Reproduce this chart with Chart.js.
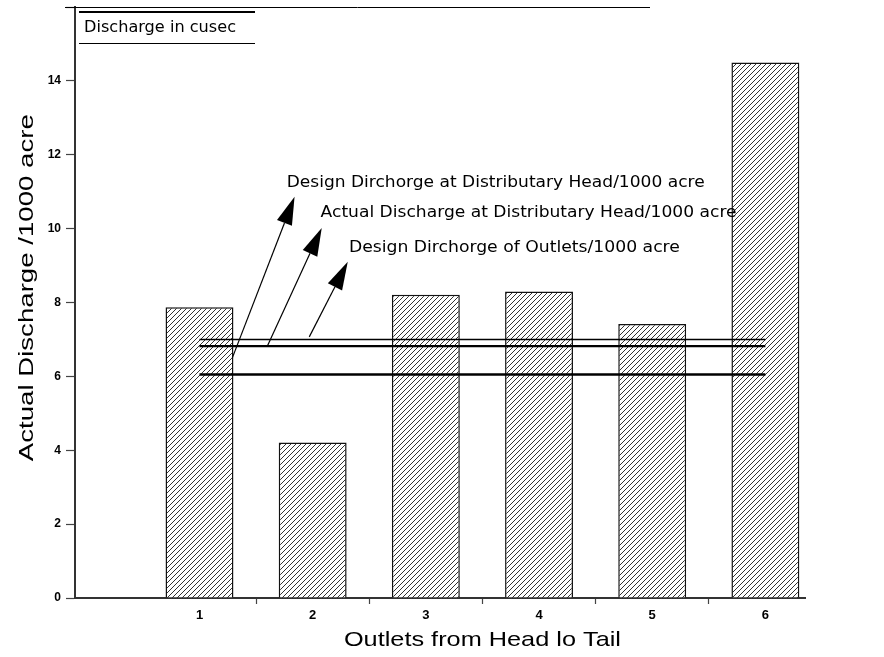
<!DOCTYPE html>
<html>
<head>
<meta charset="utf-8">
<script src="https://cdn.jsdelivr.net/npm/chart.js@4"></script>
<style>
  html, body { margin: 0; padding: 0; background: #fff; }
  canvas { display: block; }
</style>
</head>
<body>
<canvas id="c" width="884" height="657"></canvas>
<script>
// ---- data ----
const outlets = [1, 2, 3, 4, 5, 6];
const actualDischarge = [7.87, 4.21, 8.21, 8.30, 7.42, 14.5];
const refLineNames = [
  'Design Dirchorge at Distributary Head/1000 acre',
  'Actual Discharge at Distributary Head/1000 acre',
  'Design Dirchorge of Outlets/1000 acre'
];
const refLineValues = [6.05, 6.82, 7.0];
const yTickValues = [0, 2, 4, 6, 8, 10, 12, 14, 16];
const boxTitle = 'Discharge in cusec';
const xTitle = 'Outlets from Head lo Tail';
const yTitle = 'Actual Discharge /1000 acre';

// annotation arrows (data coordinates): tail -> tip, label start
const arrowTails = [[1.29, 6.5], [1.60, 6.82], [1.97, 7.07]];
const arrowTips = [[1.84, 10.86], [2.08, 10.02], [2.31, 9.10]];
const labelAnchors = [[1.77, 11.24], [2.07, 10.42], [2.32, 9.48]];
const labelWidths = [418, 416, 331];

// ---- hatch pattern ----
function hatch() {
  const s = 5;
  const p = document.createElement('canvas');
  p.width = s; p.height = s;
  const g = p.getContext('2d');
  g.fillStyle = '#fff';
  g.fillRect(0, 0, s, s);
  g.strokeStyle = '#333';
  g.lineWidth = 1;
  g.beginPath();
  g.moveTo(-1, s + 1); g.lineTo(s + 1, -1);
  g.moveTo(-1, 1); g.lineTo(1, -1);
  g.moveTo(s - 1, s + 1); g.lineTo(s + 1, s - 1);
  g.stroke();
  return document.getElementById('c').getContext('2d').createPattern(p, 'repeat');
}

function fitText(ctx, text, x, y, width, font, align) {
  ctx.save();
  ctx.font = font;
  const w = ctx.measureText(text).width;
  const k = width / w;
  ctx.translate(x, y);
  ctx.scale(k, 1);
  ctx.textAlign = align || 'left';
  ctx.textBaseline = 'middle';
  ctx.fillText(text, 0, 0);
  ctx.restore();
}

const decor = {
  id: 'decor',
  afterDatasetsDraw(chart) {
    const ctx = chart.ctx;
    const xs = chart.scales.x, ys = chart.scales.y;
    const ca = chart.chartArea;
    ctx.save();
    ctx.fillStyle = '#000';
    ctx.strokeStyle = '#000';

    // top frame line
    ctx.lineWidth = 1;
    ctx.beginPath();
    ctx.moveTo(ca.left - 10, ca.top + 0.5);
    ctx.lineTo(ca.left + 575, ca.top + 0.5);
    ctx.stroke();

    // box title
    ctx.lineWidth = 2;
    ctx.beginPath();
    ctx.moveTo(ca.left + 4, ca.top + 5);
    ctx.lineTo(ca.left + 180, ca.top + 5);
    ctx.stroke();
    ctx.lineWidth = 1;
    ctx.beginPath();
    ctx.moveTo(ca.left + 4, ca.top + 36.5);
    ctx.lineTo(ca.left + 180, ca.top + 36.5);
    ctx.stroke();
    fitText(ctx, boxTitle, ca.left + 9, ca.top + 21, 152, '15px "DejaVu Sans"');

    // arrows
    for (let i = 0; i < arrowTails.length; i++) {
      const x0 = xs.getPixelForValue(arrowTails[i][0]);
      const y0 = ys.getPixelForValue(arrowTails[i][1]);
      const x1 = xs.getPixelForValue(arrowTips[i][0]);
      const y1 = ys.getPixelForValue(arrowTips[i][1]);
      const ang = Math.atan2(y1 - y0, x1 - x0);
      const hl = 28, hw = 8;
      const bx = x1 - hl * Math.cos(ang), by = y1 - hl * Math.sin(ang);
      ctx.lineWidth = 1.2;
      ctx.beginPath();
      ctx.moveTo(x0, y0);
      ctx.lineTo(bx, by);
      ctx.stroke();
      ctx.beginPath();
      ctx.moveTo(x1, y1);
      ctx.lineTo(bx + hw * Math.sin(ang), by - hw * Math.cos(ang));
      ctx.lineTo(bx - hw * Math.sin(ang), by + hw * Math.cos(ang));
      ctx.closePath();
      ctx.fill();
      fitText(ctx, refLineNames[i],
        xs.getPixelForValue(labelAnchors[i][0]),
        ys.getPixelForValue(labelAnchors[i][1]),
        labelWidths[i], '16px "DejaVu Sans"');
    }

    // axis titles
    fitText(ctx, xTitle, xs.getPixelForValue(3.5), ca.bottom + 42, 277,
      '21px "Liberation Sans"', 'center');
    ctx.save();
    ctx.translate(27, ys.getPixelForValue(8.4));
    ctx.rotate(-Math.PI / 2);
    fitText(ctx, yTitle, 0, 0, 347, '20px "Liberation Sans"', 'center');
    ctx.restore();

    ctx.restore();
  }
};

const lineWidths = [2.5, 2.2, 1.4];
const datasets = [{
  type: 'bar',
  label: 'Actual Discharge',
  data: outlets.map((o, i) => ({ x: o, y: actualDischarge[i] })),
  backgroundColor: hatch(),
  borderColor: '#111',
  borderWidth: 1.5,
  borderSkipped: 'bottom',
  barPercentage: 0.6,
  categoryPercentage: 1,
  order: 2
}];
refLineValues.forEach((v, i) => {
  datasets.push({
    type: 'line',
    label: refLineNames[i],
    data: [{ x: outlets[0], y: v }, { x: outlets[outlets.length - 1], y: v }],
    borderColor: '#000',
    borderWidth: lineWidths[i],
    pointRadius: 0,
    fill: false,
    order: 0
  });
});

new Chart(document.getElementById('c'), {
  type: 'bar',
  data: { datasets },
  plugins: [decor],
  options: {
    responsive: false,
    devicePixelRatio: 1,
    animation: false,
    layout: { padding: { left: 0, right: 79, top: 0, bottom: 0 } },
    plugins: { legend: { display: false }, tooltip: { enabled: false } },
    scales: {
      x: {
        type: 'linear',
        min: -0.1,
        max: 6.35,
        offset: false,
        afterBuildTicks(scale) { scale.ticks = outlets.map(v => ({ value: v })); },
        afterFit(scale) { scale.height = 59; },
        ticks: {
          color: '#000',
          font: { family: 'Liberation Sans', size: 13, weight: 'bold' },
          padding: 4,
          callback: v => String(v)
        },
        grid: {
          offset: true,
          drawOnChartArea: false,
          drawTicks: true,
          tickLength: 6,
          tickWidth: 1.2,
          tickColor: ctx => (ctx.index === 0 ? 'rgba(0,0,0,0)' : '#444')
        },
        border: { display: true, color: '#333', width: 2 }
      },
      y: {
        min: 0,
        max: 16,
        afterBuildTicks(scale) { scale.ticks = yTickValues.map(v => ({ value: v })); },
        afterFit(scale) { scale.width = 75; scale.paddingTop = 7; scale.paddingBottom = 0; },
        ticks: {
          color: '#000',
          font: { family: 'Liberation Sans', size: 12, weight: 'bold' },
          padding: 5,
          callback: v => (v === 16 ? '' : String(v))
        },
        grid: {
          drawOnChartArea: false,
          drawTicks: true,
          tickLength: 9,
          tickWidth: 1.2,
          tickColor: '#444'
        },
        border: { display: true, color: '#333', width: 2 }
      }
    }
  }
});
</script>
</body>
</html>
